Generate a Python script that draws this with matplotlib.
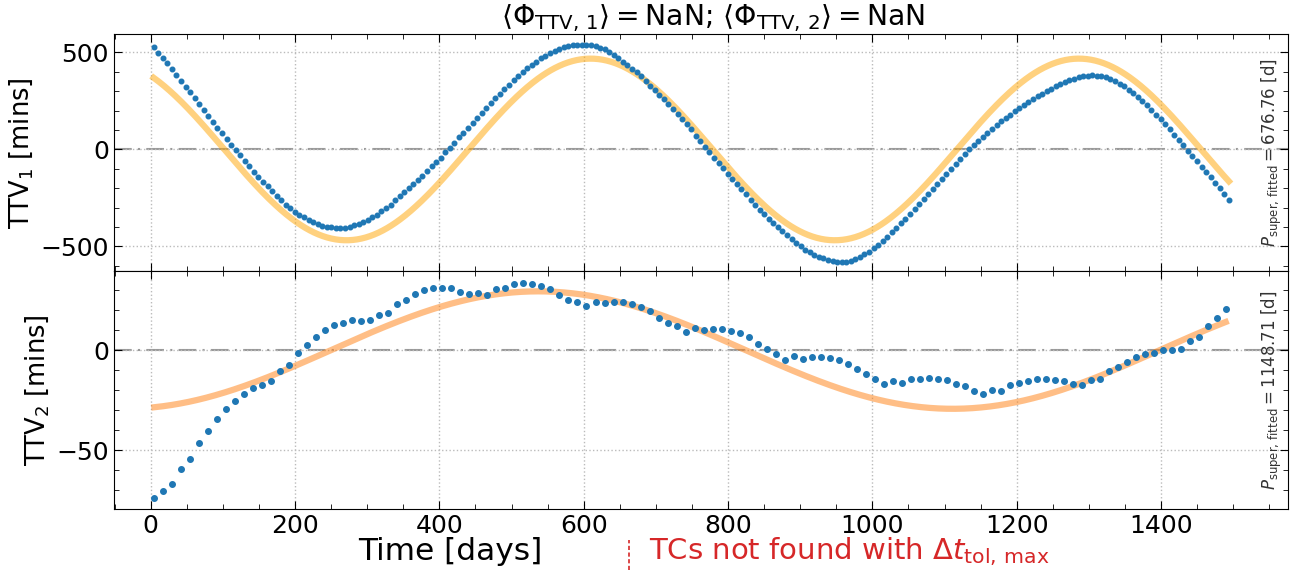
import numpy as np
import matplotlib
matplotlib.use("Agg")
import matplotlib.pyplot as plt
from matplotlib.lines import Line2D
from matplotlib.ticker import MultipleLocator

# transit ephemerides [days]
t0_1, per_1 = 4.0, 6.314
t0_2, per_2 = 5.0, 12.476

# measured TTVs of planet 1 [mins]
ttv_1 = [
    526, 498, 471, 443, 412, 384, 353, 322, 294, 263, 235, 204, 173, 142, 111,
    83, 52, 24, -3, -31, -59, -87, -114, -142, -166, -190, -216, -239, -261,
    -284, -301, -320, -336, -349, -363, -375, -384, -393, -398, -401, -405,
    -405, -403, -398, -391, -384, -374, -363, -349, -336, -318, -301, -284,
    -263, -242, -221, -201, -180, -157, -135, -111, -87, -64, -42, -14, 10,
    35, 62, 87, 111, 137, 163, 187, 215, 239, 265, 287, 311, 334, 356, 377,
    398, 419, 436, 453, 469, 484, 498, 509, 519, 526, 533, 536, 540, 540,
    540, 536, 533, 524, 516, 502, 488, 471, 453, 436, 417, 398, 377, 353,
    329, 304, 282, 258, 232, 208, 183, 156, 131, 104,
    69, 42, 14, -14, -42, -69, -97, -125, -152, -180, -204, -232, -258, -284,
    -310, -334, -356, -379, -401, -422, -443, -464, -483, -500, -516, -531,
    -543, -554, -562, -571, -576, -580, -580, -578, -573, -564, -554, -541,
    -526, -509, -491, -471, -450, -427, -405, -381, -356, -332, -306, -280,
    -254, -228, -202, -176, -151, -125, -99, -74, -50, -24, 0, 22, 45, 66,
    87, 107, 126, 145, 163, 180, 197, 215, 230, 246, 260, 273, 287, 301, 313,
    325, 336, 346, 356, 363, 372, 377, 381, 382, 381, 377, 372, 363, 353, 339,
    325, 308, 291, 270, 249, 227, 204, 180, 156, 131, 104, 76, 48, 21, -7,
    -35, -62, -90, -114, -142, -173, -201, -230, -259,
]

# measured TTVs of planet 2 [mins]
ttv_2 = [
    -73.8, -70.5, -66.7, -59.3, -54.5, -46.5, -40.6, -34.6, -29.5, -25.2,
    -22.0, -18.9, -17.2, -15.4, -10.3, -7.6, -1.5, 2.5, 6.5, 9.9,
    12.3, 13.7, 15.1, 14.7, 15.1, 17.5, 18.5, 23.0, 25.2, 27.8,
    29.8, 30.8, 30.8, 30.8, 29.0, 27.8, 28.5, 27.5, 30.6, 31.1,
    32.8, 33.3, 32.9, 31.8, 30.5, 27.5, 25.2, 24.2, 21.9, 23.8,
    23.3, 24.0, 23.8, 23.0, 21.4, 19.5, 16.2, 13.7, 11.8, 8.9,
    10.9, 9.9, 10.6, 10.4, 9.6, 8.3, 6.3, 3.1, 0.7, -2.0,
    -4.8, -3.1, -4.3, -3.3, -3.5, -4.0, -5.1, -6.8, -9.6, -11.8,
    -14.6, -17.1, -15.2, -16.2, -14.4, -14.2, -13.9, -14.2, -15.1, -16.7,
    -18.0, -20.2, -22.0, -19.9, -20.2, -17.4, -16.2, -15.2, -14.2, -14.2,
    -14.9, -15.2, -16.7, -17.4, -14.7, -14.2, -10.3, -8.3, -5.8, -3.6,
    -2.2, -1.3, 0.0, 0.0, 0.7, 4.6, 6.5, 12.1, 15.9, 20.4,
]

# fitted super-period sinusoids: amplitude [mins], period [d], time of maximum [d]
fit_1 = dict(amp=468.0, period=676.76, t_max=609.5)
fit_2 = dict(amp=29.3, period=1148.71, t_max=537.0)

tc_1 = t0_1 + per_1 * np.arange(len(ttv_1))
tc_2 = t0_2 + per_2 * np.arange(len(ttv_2))


def sinusoid(t, amp, period, t_max):
    return amp * np.cos(2 * np.pi * (t - t_max) / period)


plt.rcParams.update({
    "font.size": 18,
    "mathtext.fontset": "dejavusans",
    "xtick.direction": "in",
    "ytick.direction": "in",
    "xtick.top": True,
    "ytick.right": True,
    "xtick.major.size": 6,
    "ytick.major.size": 6,
    "xtick.minor.size": 3.5,
    "ytick.minor.size": 3.5,
})

fig, (ax1, ax2) = plt.subplots(2, 1, figsize=(13.01, 5.76), dpi=100, sharex=True)
fig.subplots_adjust(left=0.0876, right=0.990, top=0.941, bottom=0.1163, hspace=0)

panels = [
    (ax1, tc_1, ttv_1, fit_1, "orange", 3.3, r"TTV$_1$ [mins]", (-629, 595), 100),
    (ax2, tc_2, ttv_2, fit_2, "tab:orange", 4.0, r"TTV$_2$ [mins]", (-79.3, 39.2), 10),
]
for ax, tc, ttv, fit, fcol, ms, ylab, ylim, yminor in panels:
    tt = np.linspace(tc[0], tc[-1], 1000)
    ax.plot(tt, sinusoid(tt, **fit), color=fcol, alpha=0.5, lw=4.5, zorder=2)
    ax.plot(tc, ttv, "o", color="tab:blue", ms=ms, zorder=3)
    ax.axhline(0, color="gray", ls=(0, (8.5, 3, 1, 3)), lw=1.5, alpha=0.8, zorder=1)
    ax.grid(True, ls=":", color="#bbbbbb", lw=1)
    ax.set_ylabel(ylab, fontsize=18.5)
    ax.set_ylim(*ylim)
    ax.yaxis.set_minor_locator(MultipleLocator(yminor))
    ax.xaxis.set_minor_locator(MultipleLocator(50))
    ax.tick_params(which="both", top=True, right=True)
    ax.text(0.9865, 0.5,
            r"$P_{\rm super,\,fitted} = %.2f$ [d]" % fit["period"],
            transform=ax.transAxes, rotation=90, ha="center", va="center",
            fontsize=12, color="#333333")

ax1.set_xlim(-51, 1576)
ax1.set_xticks([0, 200, 400, 600, 800, 1000, 1200, 1400])
ax1.set_yticks([-500, 0, 500])
ax2.set_yticks([-50, 0])

ax1.set_title(r"$\langle\Phi_{\rm TTV,\,1}\rangle = $NaN; "
              r"$\langle\Phi_{\rm TTV,\,2}\rangle = $NaN",
              fontsize=20.3, pad=3, x=0.51)

# x label on the left, missing-transit note on the right
fig.text(0.346, 0.042, "Time [days]", ha="center", va="center", fontsize=22.5)
fig.add_artist(Line2D([0.4835, 0.4835], [0.01, 0.062], transform=fig.transFigure,
                      color="tab:red", ls=(0, (2.5, 1.5)), lw=1.2))
fig.text(0.4988, 0.042, r"TCs not found with $\Delta t_{\rm tol,\,max}$",
         ha="left", va="center", fontsize=21, color="tab:red")

fig.savefig("out.png", dpi=100)
